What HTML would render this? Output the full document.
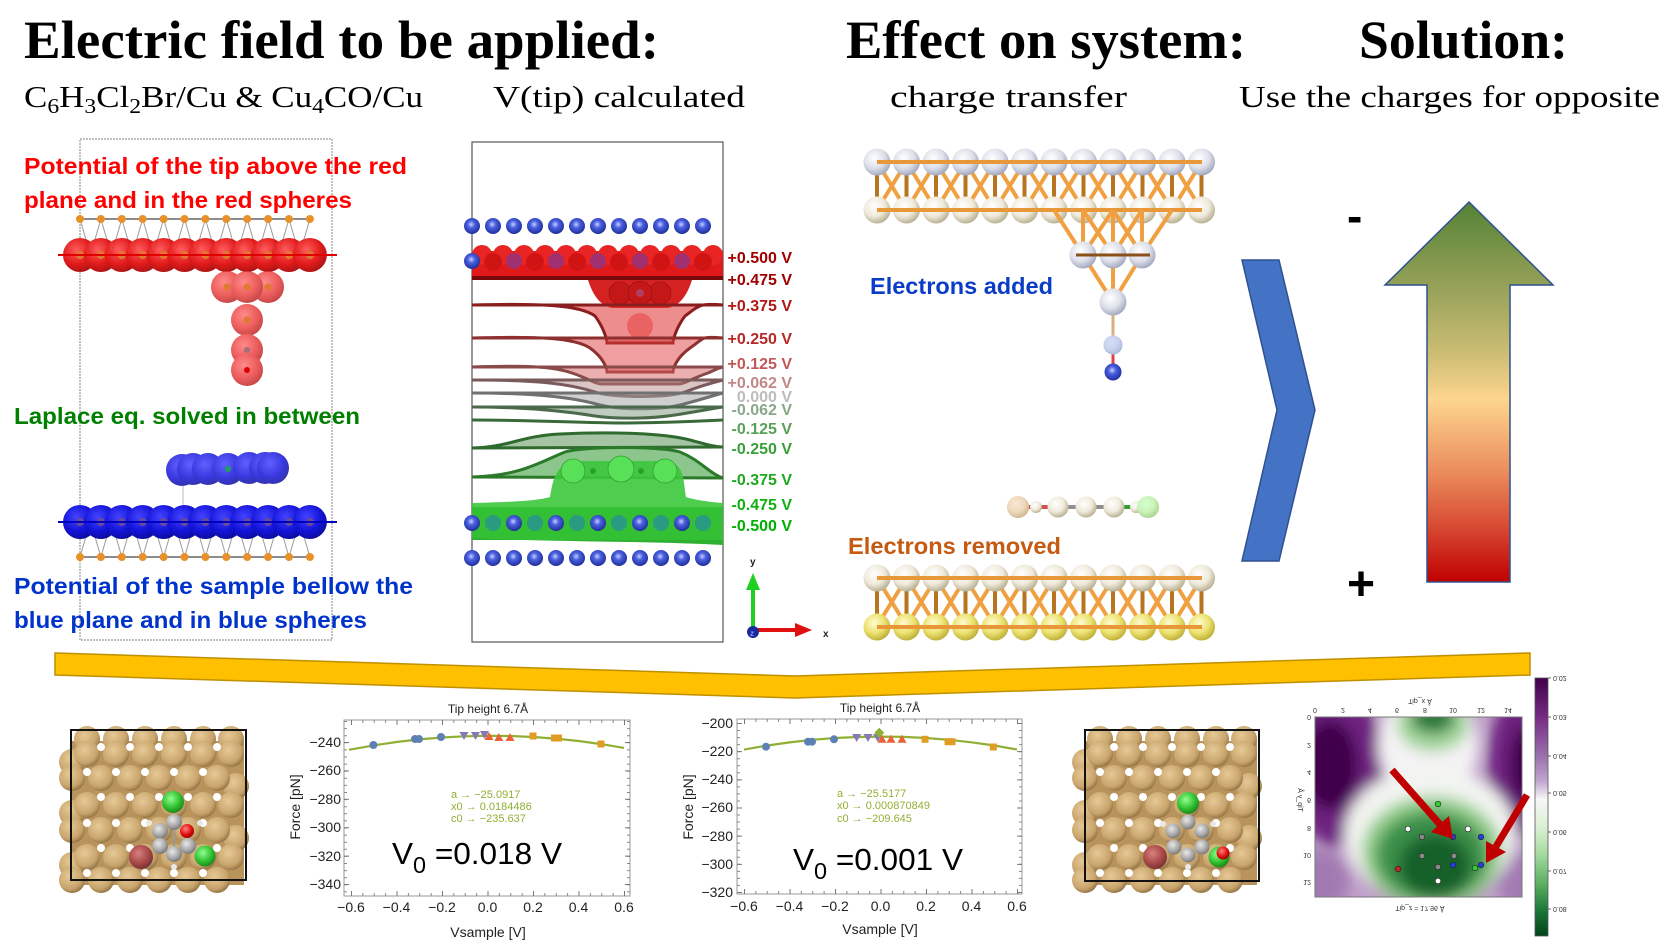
<!DOCTYPE html>
<html><head><meta charset="utf-8">
<style>
html,body{margin:0;padding:0;background:#fff;}
svg{display:block;}
</style></head>
<body>
<svg width="1665" height="946" viewBox="0 0 1665 946" xmlns="http://www.w3.org/2000/svg" xmlns:xlink="http://www.w3.org/1999/xlink">
<defs>
  <radialGradient id="gRed" cx="0.4" cy="0.35" r="0.7"><stop offset="0" stop-color="#ff5050"/><stop offset="0.6" stop-color="#e00808"/><stop offset="1" stop-color="#a00000"/></radialGradient>
  <radialGradient id="gRedT" cx="0.4" cy="0.35" r="0.7"><stop offset="0" stop-color="#ff6a6a"/><stop offset="0.6" stop-color="#e83030"/><stop offset="1" stop-color="#b01010"/></radialGradient>
  <radialGradient id="gBlue" cx="0.4" cy="0.35" r="0.7"><stop offset="0" stop-color="#3a3aff"/><stop offset="0.6" stop-color="#0808d8"/><stop offset="1" stop-color="#000090"/></radialGradient>
  <radialGradient id="gBall" cx="0.45" cy="0.4" r="0.65"><stop offset="0" stop-color="#c8d0ff"/><stop offset="0.35" stop-color="#4a60e0"/><stop offset="1" stop-color="#1a2890"/></radialGradient>
  <radialGradient id="gTan" cx="0.4" cy="0.35" r="0.7"><stop offset="0" stop-color="#e6c996"/><stop offset="0.7" stop-color="#c8a46c"/><stop offset="1" stop-color="#8a6c40"/></radialGradient>
  <radialGradient id="gGray" cx="0.4" cy="0.35" r="0.7"><stop offset="0" stop-color="#ffffff"/><stop offset="0.55" stop-color="#dde0ea"/><stop offset="1" stop-color="#9aa0b8"/></radialGradient>
  <radialGradient id="gBeige" cx="0.4" cy="0.35" r="0.7"><stop offset="0" stop-color="#ffffff"/><stop offset="0.55" stop-color="#efeadb"/><stop offset="1" stop-color="#b0a888"/></radialGradient>
  <radialGradient id="gYel" cx="0.4" cy="0.35" r="0.7"><stop offset="0" stop-color="#fffbd0"/><stop offset="0.55" stop-color="#ece270"/><stop offset="1" stop-color="#b8a830"/></radialGradient>
  <radialGradient id="gC" cx="0.4" cy="0.35" r="0.7"><stop offset="0" stop-color="#e8e8e8"/><stop offset="0.6" stop-color="#a8a8a8"/><stop offset="1" stop-color="#707070"/></radialGradient>
  <radialGradient id="gCl" cx="0.4" cy="0.35" r="0.7"><stop offset="0" stop-color="#90ff90"/><stop offset="0.6" stop-color="#30c030"/><stop offset="1" stop-color="#188018"/></radialGradient>
  <radialGradient id="gBr" cx="0.4" cy="0.35" r="0.7"><stop offset="0" stop-color="#d88080"/><stop offset="0.6" stop-color="#a84848"/><stop offset="1" stop-color="#703030"/></radialGradient>
  <radialGradient id="gO" cx="0.4" cy="0.35" r="0.7"><stop offset="0" stop-color="#ff8080"/><stop offset="0.6" stop-color="#e01010"/><stop offset="1" stop-color="#900000"/></radialGradient>
  <linearGradient id="arrowGrad" x1="0" y1="0" x2="0" y2="1">
    <stop offset="0" stop-color="#548235"/>
    <stop offset="0.22" stop-color="#95a158"/>
    <stop offset="0.4" stop-color="#cdbd74"/>
    <stop offset="0.52" stop-color="#fdd58e"/>
    <stop offset="0.7" stop-color="#ec915f"/>
    <stop offset="0.85" stop-color="#d84c34"/>
    <stop offset="1" stop-color="#c00000"/>
  </linearGradient>
  <linearGradient id="cbar" x1="0" y1="0" x2="0" y2="1">
    <stop offset="0" stop-color="#40004b"/>
    <stop offset="0.15" stop-color="#762a83"/>
    <stop offset="0.3" stop-color="#9970ab"/>
    <stop offset="0.4" stop-color="#c2a5cf"/>
    <stop offset="0.47" stop-color="#f7f7f7"/>
    <stop offset="0.58" stop-color="#d9f0d3"/>
    <stop offset="0.68" stop-color="#a6dba0"/>
    <stop offset="0.8" stop-color="#5aae61"/>
    <stop offset="0.9" stop-color="#1b7837"/>
    <stop offset="1" stop-color="#00441b"/>
  </linearGradient>
  <clipPath id="mapclip"><rect x="1315" y="717" width="207" height="180"/></clipPath>
  <filter id="blur" x="-30%" y="-30%" width="160%" height="160%"><feGaussianBlur stdDeviation="7"/></filter>

  <g id="lrow"><circle cx="0" cy="0" r="17"/><circle cx="20.9" cy="0" r="17"/><circle cx="41.8" cy="0" r="17"/><circle cx="62.7" cy="0" r="17"/><circle cx="83.6" cy="0" r="17"/><circle cx="104.5" cy="0" r="17"/><circle cx="125.4" cy="0" r="17"/><circle cx="146.3" cy="0" r="17"/><circle cx="167.2" cy="0" r="17"/><circle cx="188.1" cy="0" r="17"/><circle cx="209" cy="0" r="17"/><circle cx="229.9" cy="0" r="17"/></g>
  <g id="ldots"><circle cx="0" cy="0" r="4"/><circle cx="20.9" cy="0" r="4"/><circle cx="41.8" cy="0" r="4"/><circle cx="62.7" cy="0" r="4"/><circle cx="83.6" cy="0" r="4"/><circle cx="104.5" cy="0" r="4"/><circle cx="125.4" cy="0" r="4"/><circle cx="146.3" cy="0" r="4"/><circle cx="167.2" cy="0" r="4"/><circle cx="188.1" cy="0" r="4"/><circle cx="209" cy="0" r="4"/><circle cx="229.9" cy="0" r="4"/></g>
  <polyline id="zig" fill="none" stroke="#9a9a9a" stroke-width="1" points="80,219 90.45,255 100.9,219 111.35,255 121.8,219 132.25,255 142.7,219 153.15,255 163.6,219 174.05,255 184.5,219 194.95,255 205.4,219 215.85,255 226.3,219 236.75,255 247.2,219 257.65,255 268.1,219 278.55,255 289,219 299.45,255 309.9,219"/>
  <g id="mrow"><circle cx="0" cy="0" r="8"/><circle cx="21" cy="0" r="8"/><circle cx="42" cy="0" r="8"/><circle cx="63" cy="0" r="8"/><circle cx="84" cy="0" r="8"/><circle cx="105" cy="0" r="8"/><circle cx="126" cy="0" r="8"/><circle cx="147" cy="0" r="8"/><circle cx="168" cy="0" r="8"/><circle cx="189" cy="0" r="8"/><circle cx="210" cy="0" r="8"/><circle cx="231" cy="0" r="8"/></g>
  <g id="rrow"><circle cx="0" cy="0" r="13.5"/><circle cx="29.5" cy="0" r="13.5"/><circle cx="59" cy="0" r="13.5"/><circle cx="88.5" cy="0" r="13.5"/><circle cx="118" cy="0" r="13.5"/><circle cx="147.5" cy="0" r="13.5"/><circle cx="177" cy="0" r="13.5"/><circle cx="206.5" cy="0" r="13.5"/><circle cx="236" cy="0" r="13.5"/><circle cx="265.5" cy="0" r="13.5"/><circle cx="295" cy="0" r="13.5"/><circle cx="324.5" cy="0" r="13.5"/></g>
  <g id="rbonds">
    <path d="M877,162 l29.5,48 m0,-48 l-29.5,48 m29.5,-48 l29.5,48 m0,-48 l-29.5,48 m29.5,-48 l29.5,48 m0,-48 l-29.5,48 m29.5,-48 l29.5,48 m0,-48 l-29.5,48 m29.5,-48 l29.5,48 m0,-48 l-29.5,48 m29.5,-48 l29.5,48 m0,-48 l-29.5,48 m29.5,-48 l29.5,48 m0,-48 l-29.5,48 m29.5,-48 l29.5,48 m0,-48 l-29.5,48 m29.5,-48 l29.5,48 m0,-48 l-29.5,48 m29.5,-48 l29.5,48 m0,-48 l-29.5,48 m29.5,-48 l29.5,48 m0,-48 l-29.5,48" stroke="#f0a040" stroke-width="4" fill="none"/>
    <path d="M877,162 v48 m29.5,-48 v48 m29.5,-48 v48 m29.5,-48 v48 m29.5,-48 v48 m29.5,-48 v48 m29.5,-48 v48 m29.5,-48 v48 m29.5,-48 v48 m29.5,-48 v48 m29.5,-48 v48 m29.5,-48 v48" stroke="#b87420" stroke-width="4" fill="none"/>
  </g>
  <g id="slab">
    <rect x="72" y="741" width="172" height="144" fill="#b8935c"/>
    <g fill="url(#gTan)">
      <circle cx="87" cy="739" r="13"/><circle cx="116" cy="739" r="13"/><circle cx="145" cy="739" r="13"/><circle cx="174" cy="739" r="13"/><circle cx="203" cy="739" r="13"/><circle cx="231" cy="739" r="13"/>
      <circle cx="72" cy="762" r="13"/><circle cx="72" cy="813" r="13"/><circle cx="72" cy="865" r="13"/>
      <circle cx="236" cy="786" r="13"/><circle cx="236" cy="838" r="13"/>
      <circle cx="87" cy="754" r="13"/><circle cx="116" cy="754" r="13"/><circle cx="145" cy="754" r="13"/><circle cx="174" cy="754" r="13"/><circle cx="203" cy="754" r="13"/><circle cx="231" cy="754" r="13"/>
      <circle cx="72" cy="778" r="13"/><circle cx="101" cy="778" r="13"/><circle cx="130" cy="778" r="13"/><circle cx="159" cy="778" r="13"/><circle cx="188" cy="778" r="13"/><circle cx="217" cy="778" r="13"/>
      <circle cx="87" cy="805" r="13"/><circle cx="116" cy="805" r="13"/><circle cx="145" cy="805" r="13"/><circle cx="174" cy="805" r="13"/><circle cx="203" cy="805" r="13"/><circle cx="231" cy="805" r="13"/>
      <circle cx="72" cy="830" r="13"/><circle cx="101" cy="830" r="13"/><circle cx="130" cy="830" r="13"/><circle cx="159" cy="830" r="13"/><circle cx="188" cy="830" r="13"/><circle cx="217" cy="830" r="13"/>
      <circle cx="87" cy="857" r="13"/><circle cx="116" cy="857" r="13"/><circle cx="145" cy="857" r="13"/><circle cx="174" cy="857" r="13"/><circle cx="203" cy="857" r="13"/><circle cx="231" cy="857" r="13"/>
      <circle cx="72" cy="880" r="13"/><circle cx="101" cy="880" r="13"/><circle cx="130" cy="880" r="13"/><circle cx="159" cy="880" r="13"/><circle cx="188" cy="880" r="13"/><circle cx="217" cy="880" r="13"/>
    </g>
    <g fill="#ffffff">
      <circle cx="101" cy="747" r="4"/><circle cx="130" cy="747" r="4"/><circle cx="159" cy="747" r="4"/><circle cx="188" cy="747" r="4"/><circle cx="217" cy="747" r="4"/>
      <circle cx="87" cy="772" r="4"/><circle cx="116" cy="772" r="4"/><circle cx="145" cy="772" r="4"/><circle cx="174" cy="772" r="4"/><circle cx="203" cy="772" r="4"/>
      <circle cx="101" cy="797" r="4"/><circle cx="130" cy="797" r="4"/><circle cx="159" cy="797" r="4"/><circle cx="188" cy="797" r="4"/><circle cx="217" cy="797" r="4"/>
      <circle cx="87" cy="823" r="4"/><circle cx="116" cy="823" r="4"/><circle cx="145" cy="823" r="4"/><circle cx="203" cy="823" r="4"/>
      <circle cx="101" cy="848" r="4"/><circle cx="130" cy="848" r="4"/><circle cx="188" cy="848" r="4"/><circle cx="217" cy="848" r="4"/>
      <circle cx="87" cy="873" r="4"/><circle cx="116" cy="873" r="4"/><circle cx="145" cy="873" r="4"/><circle cx="174" cy="873" r="4"/><circle cx="203" cy="873" r="4"/>
    </g>
  </g>
</defs>

<rect x="0" y="0" width="1665" height="946" fill="#ffffff"/>

<!-- Titles -->
<g font-family="'Liberation Serif', serif" fill="#000">
  <text x="24" y="58" font-size="54" font-weight="bold" textLength="635" lengthAdjust="spacingAndGlyphs">Electric field to be applied:</text>
  <text x="846" y="58" font-size="54" font-weight="bold" textLength="400" lengthAdjust="spacingAndGlyphs">Effect on system:</text>
  <text x="1359" y="58" font-size="54" font-weight="bold" textLength="209" lengthAdjust="spacingAndGlyphs">Solution:</text>
  <text x="24" y="107" font-size="31" textLength="399" lengthAdjust="spacingAndGlyphs">C<tspan font-size="21" dy="6">6</tspan><tspan dy="-6">H</tspan><tspan font-size="21" dy="6">3</tspan><tspan dy="-6">Cl</tspan><tspan font-size="21" dy="6">2</tspan><tspan dy="-6">Br/Cu &amp; Cu</tspan><tspan font-size="21" dy="6">4</tspan><tspan dy="-6">CO/Cu</tspan></text>
  <text x="493" y="107" font-size="31" textLength="252" lengthAdjust="spacingAndGlyphs">V(tip) calculated</text>
  <text x="890" y="107" font-size="31" textLength="237" lengthAdjust="spacingAndGlyphs">charge transfer</text>
  <text x="1239" y="107" font-size="31" textLength="421" lengthAdjust="spacingAndGlyphs">Use the charges for opposite</text>
</g>

<!-- ===== Left panel ===== -->
<rect x="80" y="139" width="252" height="501" fill="none" stroke="#999" stroke-width="1.2" stroke-dasharray="2 1"/>
<line x1="80" y1="219" x2="310" y2="219" stroke="#666" stroke-width="1.5"/>
<use href="#zig"/>
<use href="#ldots" transform="translate(80,219)" fill="#e8902a"/>
<use href="#lrow" transform="translate(80,255)" fill="url(#gRed)" opacity="0.92"/>
<use href="#ldots" transform="translate(80,255)" fill="#e07a30"/>
<line x1="58" y1="255" x2="337" y2="255" stroke="#e00000" stroke-width="2"/>
<g fill="url(#gRedT)" opacity="0.78">
  <circle cx="227" cy="287" r="16"/><circle cx="268" cy="287" r="16"/><circle cx="247" cy="287" r="16"/>
  <circle cx="247" cy="320" r="16"/><circle cx="247" cy="350" r="16"/><circle cx="247" cy="370" r="16"/>
</g>
<g fill="#e07a30"><circle cx="227" cy="287" r="3.5"/><circle cx="247" cy="287" r="3.5"/><circle cx="268" cy="287" r="3.5"/><circle cx="247" cy="320" r="3.5"/></g>
<circle cx="247" cy="350" r="3" fill="#a07080"/><circle cx="247" cy="370" r="3" fill="#e00000"/>
<line x1="183" y1="486" x2="183" y2="512" stroke="#bbb" stroke-width="1"/>
<g fill="url(#gBlue)" opacity="0.8">
  <circle cx="182" cy="470" r="16"/><circle cx="193" cy="469" r="16"/><circle cx="208" cy="469" r="16"/><circle cx="228" cy="469" r="16"/><circle cx="249" cy="468" r="16"/><circle cx="265" cy="468" r="16"/><circle cx="273" cy="468" r="16"/>
</g>
<circle cx="228" cy="469" r="3" fill="#20a060"/>
<use href="#zig" transform="translate(0,776) scale(1,-1)"/>
<use href="#lrow" transform="translate(80,522)" fill="url(#gBlue)" opacity="0.95"/>
<use href="#ldots" transform="translate(80,522)" fill="#6a4a9a"/>
<line x1="58" y1="522" x2="337" y2="522" stroke="#0000c0" stroke-width="2"/>
<line x1="80" y1="557" x2="310" y2="557" stroke="#666" stroke-width="1.5"/>
<use href="#ldots" transform="translate(80,557)" fill="#e8902a"/>

<g font-family="'Liberation Sans', sans-serif" font-weight="bold" font-size="23">
  <text x="24" y="174" fill="#ff0000" textLength="383" lengthAdjust="spacingAndGlyphs">Potential of the tip above the red</text>
  <text x="24" y="208" fill="#ff0000" textLength="328" lengthAdjust="spacingAndGlyphs">plane and in the red spheres</text>
  <text x="14" y="424" fill="#008000" textLength="346" lengthAdjust="spacingAndGlyphs">Laplace eq. solved in between</text>
  <text x="14" y="594" fill="#0033cc" textLength="399" lengthAdjust="spacingAndGlyphs">Potential of the sample bellow the</text>
  <text x="14" y="628" fill="#0033cc" textLength="353" lengthAdjust="spacingAndGlyphs">blue plane and in blue spheres</text>
</g>

<!-- ===== Middle panel: V(tip) ===== -->
<rect x="472" y="142" width="251" height="500" fill="none" stroke="#555" stroke-width="1.2"/>
<use href="#mrow" transform="translate(472,226)" fill="url(#gBall)"/>
<rect x="472" y="251" width="251" height="29" fill="#e01a1a"/>
<g fill="#e82424"><circle cx="482" cy="255" r="10"/><circle cx="503" cy="255" r="10"/><circle cx="524" cy="255" r="10"/><circle cx="545" cy="255" r="10"/><circle cx="566" cy="255" r="10"/><circle cx="587" cy="255" r="10"/><circle cx="608" cy="255" r="10"/><circle cx="629" cy="255" r="10"/><circle cx="650" cy="255" r="10"/><circle cx="671" cy="255" r="10"/><circle cx="692" cy="255" r="10"/><circle cx="713" cy="255" r="10"/></g>
<g fill="#d01414"><circle cx="493" cy="262" r="9"/><circle cx="535" cy="262" r="9"/><circle cx="577" cy="262" r="9"/><circle cx="619" cy="262" r="9"/><circle cx="661" cy="262" r="9"/><circle cx="703" cy="262" r="9"/></g>
<g fill="#a03070"><circle cx="514" cy="261" r="8"/><circle cx="556" cy="261" r="8"/><circle cx="598" cy="261" r="8"/><circle cx="640" cy="261" r="8"/><circle cx="682" cy="261" r="8"/></g>
<circle cx="472" cy="261" r="8" fill="url(#gBall)"/>
<rect x="472" y="276" width="251" height="4" fill="#7a0a0a"/>
<path d="M588,280 C592,292 598,305 612,308 L668,308 C682,305 688,292 692,280 Z" fill="#d42222"/>
<g fill="#c41818" stroke="#a01010" stroke-width="0.8"><circle cx="620" cy="293" r="11"/><circle cx="660" cy="293" r="11"/><circle cx="640" cy="293" r="12"/></g>
<circle cx="640" cy="293" r="4" fill="#b04060"/>
<path d="M472,305 C540,303 580,305 595,316 C604,328 607,340 607,343 L673,343 C673,340 676,328 685,316 C700,305 700,303 723,305 Z" fill="#e03030" fill-opacity="0.55" stroke="#8a1e1e" stroke-width="3"/>
<circle cx="640" cy="326" r="13" fill="#e84848" opacity="0.6"/>
<path d="M472,338 C540,336 575,338 590,348 C604,358 607,369 607,372 L673,372 C673,369 676,358 690,348 C705,338 700,336 723,338 Z" fill="#e04040" fill-opacity="0.5" stroke="#8e3030" stroke-width="3"/>
<path d="M472,367 C530,365 555,367 572,373 C590,379 595,384 602,384 L678,384 C685,384 690,379 708,373 C715,370 718,368 723,367 Z" fill="#d86060" fill-opacity="0.5" stroke="#8a4a4a" stroke-width="3"/>
<path d="M472,380 C540,380 570,384 595,392 C612,398 668,398 685,392 C700,386 715,382 723,380 Z" fill="#b08080" fill-opacity="0.45" stroke="#7a5a5a" stroke-width="3"/>
<path d="M472,393 C540,393 575,398 600,405 C620,410 660,410 680,405 C700,400 715,395 723,393 Z" fill="#a0a0a0" fill-opacity="0.5" stroke="#707070" stroke-width="3"/>
<path d="M472,407 C530,407 570,412 595,416 C615,419 650,419 675,415 C700,411 715,408 723,407 Z" fill="#809880" fill-opacity="0.5" stroke="#4a6a4a" stroke-width="3"/>
<path d="M472,420 C540,420 580,423 620,423 C660,423 700,421 723,420" fill="none" stroke="#3a6a3a" stroke-width="3"/>
<path d="M472,448 C510,447 520,436 560,434 C600,432 660,432 690,440 C705,444 715,447 723,447 Z" fill="#4a8a4a" fill-opacity="0.5" stroke="#2f6a2f" stroke-width="3"/>
<path d="M472,477 C520,476 540,462 565,452 C585,446 660,446 680,452 C700,460 710,474 723,478 Z" fill="#40a040" fill-opacity="0.6" stroke="#2a7a2a" stroke-width="3"/>
<path d="M472,503 C520,502 540,500 550,497 C553,480 555,465 575,461 L668,461 C685,465 683,480 686,497 C695,500 710,502 723,503 L723,508 L472,508 Z" fill="#3cc83c" fill-opacity="0.9"/>
<g fill="#58e058" stroke="#30a030" stroke-width="0.8"><circle cx="573" cy="471" r="12"/><circle cx="621" cy="469" r="13"/><circle cx="665" cy="471" r="12"/></g>
<g fill="#2aa02a"><circle cx="593" cy="471" r="3"/><circle cx="641" cy="471" r="3"/></g>
<rect x="472" y="507" width="251" height="33" fill="#34c034"/>
<path d="M472,538 C550,542 650,541 723,545 L723,540 L472,540 Z" fill="#30b030"/>
<g fill="#2a9a80"><circle cx="493" cy="523" r="8"/><circle cx="535" cy="523" r="8"/><circle cx="577" cy="523" r="8"/><circle cx="619" cy="523" r="8"/><circle cx="661" cy="523" r="8"/><circle cx="703" cy="523" r="8"/></g>
<g fill="url(#gBall)"><circle cx="472" cy="523" r="8"/><circle cx="514" cy="523" r="8"/><circle cx="556" cy="523" r="8"/><circle cx="598" cy="523" r="8"/><circle cx="640" cy="523" r="8"/><circle cx="682" cy="523" r="8"/></g>
<use href="#mrow" transform="translate(472,558)" fill="url(#gBall)"/>
<g font-family="'Liberation Sans', sans-serif" font-weight="bold" font-size="16" text-anchor="end" stroke="#ffffff" stroke-width="0.4" paint-order="stroke">
  <text x="792" y="263" fill="#a00000">+0.500 V</text>
  <text x="792" y="285" fill="#a00000">+0.475 V</text>
  <text x="792" y="311" fill="#b01818">+0.375 V</text>
  <text x="792" y="344" fill="#b82828">+0.250 V</text>
  <text x="792" y="369" fill="#c05858">+0.125 V</text>
  <text x="792" y="388" fill="#c08888">+0.062 V</text>
  <text x="792" y="402" fill="#bcbcbc">0.000 V</text>
  <text x="792" y="415" fill="#88a888">-0.062 V</text>
  <text x="792" y="434" fill="#58a058">-0.125 V</text>
  <text x="792" y="454" fill="#38a038">-0.250 V</text>
  <text x="792" y="485" fill="#20a820">-0.375 V</text>
  <text x="792" y="510" fill="#10b010">-0.475 V</text>
  <text x="792" y="531" fill="#00b000">-0.500 V</text>
</g>
<line x1="753" y1="630" x2="753" y2="588" stroke="#20d020" stroke-width="4"/>
<polygon points="753,573 746,590 760,590" fill="#20d020"/>
<line x1="753" y1="630" x2="796" y2="630" stroke="#e01010" stroke-width="4"/>
<polygon points="812,630 795,623 795,637" fill="#e01010"/>
<circle cx="753" cy="632" r="6" fill="#1a2a9a"/>
<g font-family="'Liberation Sans', sans-serif" font-weight="bold" font-size="10" fill="#222">
  <text x="750" y="565">y</text>
  <text x="823" y="637">x</text>
  <text x="750" y="636" fill="#8898ff" font-size="8">z</text>
</g>

<!-- ===== Right top panel ===== -->
<use href="#rbonds"/>
<use href="#rrow" transform="translate(877,162)" fill="url(#gGray)"/>
<use href="#rrow" transform="translate(877,210)" fill="url(#gBeige)"/>
<line x1="877" y1="162" x2="1202" y2="162" stroke="#e89838" stroke-width="4"/>
<line x1="877" y1="210" x2="1202" y2="210" stroke="#e89838" stroke-width="4"/>
<path d="M1054,210 L1083,255 M1083,210 L1083,255 M1083,210 L1113,255 M1113,210 L1083,255 M1113,210 L1113,255 M1113,210 L1142,255 M1142,210 L1113,255 M1142,210 L1142,255 M1172,210 L1142,255 M1083,255 L1113,302 M1142,255 L1113,302 M1113,255 L1113,302" stroke="#f0a040" stroke-width="4" fill="none"/>
<g fill="url(#gGray)"><circle cx="1083" cy="255" r="13.5"/><circle cx="1142" cy="255" r="13.5"/><circle cx="1113" cy="255" r="13.5"/><circle cx="1113" cy="302" r="13.5"/></g>
<line x1="1076" y1="255" x2="1150" y2="255" stroke="#8a5018" stroke-width="3"/>
<line x1="1113" y1="315" x2="1113" y2="336" stroke="#d8b080" stroke-width="3"/>
<line x1="1113" y1="352" x2="1113" y2="366" stroke="#e04040" stroke-width="3"/>
<circle cx="1113" cy="345" r="9.5" fill="url(#gGray)"/>
<circle cx="1113" cy="345" r="9.5" fill="#b8c8f0" opacity="0.6"/>
<circle cx="1113" cy="372" r="8.5" fill="url(#gBall)"/>
<line x1="1026" y1="507" x2="1050" y2="507" stroke="#d05050" stroke-width="4"/>
<line x1="1058" y1="507" x2="1120" y2="507" stroke="#909090" stroke-width="4"/>
<line x1="1120" y1="507" x2="1142" y2="507" stroke="#30a030" stroke-width="4"/>
<circle cx="1018" cy="507" r="11" fill="url(#gBeige)"/><circle cx="1018" cy="507" r="11" fill="#f0c090" opacity="0.4"/>
<circle cx="1036" cy="507" r="6" fill="url(#gBeige)"/>
<circle cx="1058" cy="507" r="10.5" fill="url(#gBeige)"/>
<circle cx="1086" cy="507" r="10.5" fill="url(#gBeige)"/>
<circle cx="1114" cy="507" r="10.5" fill="url(#gBeige)"/>
<circle cx="1136" cy="507" r="6" fill="url(#gBeige)"/>
<circle cx="1148" cy="507" r="11" fill="url(#gBeige)"/><circle cx="1148" cy="507" r="11" fill="#a0ff90" opacity="0.45"/>
<use href="#rbonds" transform="translate(0,416)"/>
<use href="#rrow" transform="translate(877,578)" fill="url(#gBeige)"/>
<use href="#rrow" transform="translate(877,627)" fill="url(#gYel)"/>
<line x1="877" y1="578" x2="1202" y2="578" stroke="#e89838" stroke-width="4"/>
<line x1="877" y1="627" x2="1202" y2="627" stroke="#e89838" stroke-width="4"/>
<g font-family="'Liberation Sans', sans-serif" font-weight="bold" font-size="23">
  <text x="870" y="294" fill="#0a3cc8" textLength="183" lengthAdjust="spacingAndGlyphs">Electrons added</text>
  <text x="848" y="554" fill="#c55a11" textLength="213" lengthAdjust="spacingAndGlyphs">Electrons removed</text>
</g>

<polygon points="1242,260 1279,260 1315,410 1279,561 1242,561 1277,410" fill="#4472c4" stroke="#2f528f" stroke-width="1.5"/>
<polygon points="1469,202 1553,285 1510,285 1510,582 1427,582 1427,285 1385,285" fill="url(#arrowGrad)" stroke="#2f528f" stroke-width="1.5"/>
<g font-family="'Liberation Sans', sans-serif" font-weight="bold" fill="#000">
  <text x="1347" y="232" font-size="46">-</text>
  <text x="1347" y="600" font-size="48">+</text>
</g>

<polygon points="55,653 795,676 1530,653 1530,675 795,698 55,675" fill="#ffc000" stroke="#bf9000" stroke-width="1.5"/>

<!-- ===== bottom slab images ===== -->
<use href="#slab"/>
<g>
  <line x1="174" y1="822" x2="174" y2="854" stroke="#999" stroke-width="2"/>
  <circle cx="173" cy="802" r="11" fill="url(#gCl)"/>
  <g fill="#e8e8e8"><circle cx="149" cy="823" r="3"/><circle cx="200" cy="823" r="3"/><circle cx="174" cy="867" r="3"/></g>
  <circle cx="141" cy="857" r="12" fill="url(#gBr)"/>
  <circle cx="205" cy="856" r="10.5" fill="url(#gCl)"/>
  <g fill="url(#gC)"><circle cx="174" cy="822" r="8"/><circle cx="160" cy="831" r="8"/><circle cx="160" cy="846" r="8"/><circle cx="174" cy="854" r="8"/><circle cx="188" cy="846" r="8"/></g>
  <circle cx="187" cy="831" r="7" fill="url(#gO)"/>
</g>
<rect x="71" y="730" width="175" height="150" fill="none" stroke="#111" stroke-width="2"/>

<use href="#slab" transform="translate(1013,0)"/>
<g>
  <circle cx="1188" cy="803" r="11" fill="url(#gCl)"/>
  <g fill="#e8e8e8"><circle cx="1163" cy="824" r="3"/><circle cx="1213" cy="824" r="3"/><circle cx="1188" cy="867" r="3"/></g>
  <circle cx="1155" cy="857" r="12" fill="url(#gBr)"/>
  <g fill="url(#gC)"><circle cx="1188" cy="822" r="7.5"/><circle cx="1173" cy="831" r="7.5"/><circle cx="1202" cy="831" r="7.5"/><circle cx="1174" cy="847" r="7.5"/><circle cx="1202" cy="847" r="7.5"/><circle cx="1188" cy="855" r="7.5"/></g>
  <circle cx="1219" cy="857" r="10.5" fill="url(#gCl)"/>
  <circle cx="1223" cy="853" r="6.5" fill="url(#gO)"/>
</g>
<rect x="1085" y="730" width="174" height="151" fill="none" stroke="#111" stroke-width="2"/>

<!-- ===== Chart 1 ===== -->
<g font-family="'Liberation Sans', sans-serif" fill="#222">
  <text x="488" y="713" font-size="12" text-anchor="middle">Tip height 6.7Å</text>
  <rect x="344" y="720" width="286" height="176" fill="#fff" stroke="#999" stroke-width="1"/>
  <line x1="351" y1="894.5" x2="625" y2="894.5" stroke="#888" stroke-width="3" stroke-dasharray="1 10.375"/>
  <line x1="351" y1="893.5" x2="625" y2="893.5" stroke="#777" stroke-width="5" stroke-dasharray="1 44.5"/>
  <line x1="351" y1="721.5" x2="625" y2="721.5" stroke="#888" stroke-width="3" stroke-dasharray="1 10.375"/>
  <line x1="351" y1="722.5" x2="625" y2="722.5" stroke="#777" stroke-width="5" stroke-dasharray="1 44.5"/>
  <line x1="345.5" y1="721" x2="345.5" y2="896" stroke="#888" stroke-width="3" stroke-dasharray="1 6.1"/>
  <line x1="346.5" y1="742" x2="346.5" y2="896" stroke="#777" stroke-width="5" stroke-dasharray="1 27.4"/>
  <line x1="628.5" y1="721" x2="628.5" y2="896" stroke="#888" stroke-width="3" stroke-dasharray="1 6.1"/>
  <line x1="627.5" y1="742" x2="627.5" y2="896" stroke="#777" stroke-width="5" stroke-dasharray="1 27.4"/>
  <g font-size="14" text-anchor="end">
    <text x="341" y="747">−240</text><text x="341" y="775">−260</text><text x="341" y="804">−280</text><text x="341" y="832">−300</text><text x="341" y="861">−320</text><text x="341" y="889">−340</text>
  </g>
  <g font-size="14" text-anchor="middle">
    <text x="351" y="912">−0.6</text><text x="396.5" y="912">−0.4</text><text x="442" y="912">−0.2</text><text x="487.5" y="912">0.0</text><text x="533" y="912">0.2</text><text x="578.5" y="912">0.4</text><text x="624" y="912">0.6</text>
  </g>
  <text x="488" y="937" font-size="14" text-anchor="middle">Vsample [V]</text>
  <text transform="translate(300,807) rotate(-90)" font-size="14" text-anchor="middle">Force [pN]</text>
  <polyline fill="none" stroke="#8fb032" stroke-width="2.2" points="349,749.7 351,749.4 373.75,745.4 396.5,742 419.25,739.4 442,737.5 464.75,736.3 487.5,735.8 510.25,736 533,737 555.75,738.6 578.5,741 601.25,744.1 624,747.9"/>
  <g fill="#5e81b5"><circle cx="373.4" cy="745" r="4"/><circle cx="415" cy="739" r="4"/><circle cx="419" cy="739" r="4"/><circle cx="441" cy="737" r="4"/></g>
  <g fill="#8778b3"><polygon points="459.5,732 468.5,732 464,740"/><polygon points="471,732 480,732 475.5,740"/><polygon points="480,731 489,731 484.5,739"/></g>
  <g fill="#eb6235"><polygon points="489,732 493.5,740 484.5,740"/><polygon points="498.8,733 503.3,741 494.3,741"/><polygon points="510,733 514.5,741 505.5,741"/></g>
  <g fill="#e19c24"><rect x="529.5" y="732.5" width="7" height="7"/><rect x="551" y="734.5" width="7" height="7"/><rect x="555" y="734.5" width="7" height="7"/><rect x="597.5" y="740.5" width="7" height="7"/></g>
  <g font-size="11" fill="#8fb032">
    <text x="451" y="798">a → −25.0917</text>
    <text x="451" y="810">x0 → 0.0184486</text>
    <text x="451" y="822">c0 → −235.637</text>
  </g>
  <text x="392" y="864" font-size="31" fill="#000" textLength="170" lengthAdjust="spacingAndGlyphs">V<tspan font-size="23" dy="9">0</tspan><tspan dy="-9"> =0.018 V</tspan></text>
</g>

<!-- ===== Chart 2 ===== -->
<g font-family="'Liberation Sans', sans-serif" fill="#222">
  <text x="880" y="712" font-size="12" text-anchor="middle">Tip height 6.7Å</text>
  <rect x="737" y="719" width="285" height="175" fill="#fff" stroke="#999" stroke-width="1"/>
  <line x1="744" y1="892.5" x2="1018" y2="892.5" stroke="#888" stroke-width="3" stroke-dasharray="1 10.375"/>
  <line x1="744" y1="891.5" x2="1018" y2="891.5" stroke="#777" stroke-width="5" stroke-dasharray="1 44.5"/>
  <line x1="744" y1="720.5" x2="1018" y2="720.5" stroke="#888" stroke-width="3" stroke-dasharray="1 10.375"/>
  <line x1="744" y1="721.5" x2="1018" y2="721.5" stroke="#777" stroke-width="5" stroke-dasharray="1 44.5"/>
  <line x1="738.5" y1="723" x2="738.5" y2="894" stroke="#888" stroke-width="3" stroke-dasharray="1 6.04"/>
  <line x1="739.5" y1="723" x2="739.5" y2="894" stroke="#777" stroke-width="5" stroke-dasharray="1 27.17"/>
  <line x1="1020.5" y1="723" x2="1020.5" y2="894" stroke="#888" stroke-width="3" stroke-dasharray="1 6.04"/>
  <line x1="1019.5" y1="723" x2="1019.5" y2="894" stroke="#777" stroke-width="5" stroke-dasharray="1 27.17"/>
  <g font-size="14" text-anchor="end">
    <text x="733" y="728">−200</text><text x="733" y="756">−220</text><text x="733" y="784">−240</text><text x="733" y="812">−260</text><text x="733" y="841">−280</text><text x="733" y="869">−300</text><text x="733" y="897">−320</text>
  </g>
  <g font-size="14" text-anchor="middle">
    <text x="744" y="911">−0.6</text><text x="789.5" y="911">−0.4</text><text x="835" y="911">−0.2</text><text x="880.5" y="911">0.0</text><text x="926" y="911">0.2</text><text x="971.5" y="911">0.4</text><text x="1017" y="911">0.6</text>
  </g>
  <text x="880" y="934" font-size="14" text-anchor="middle">Vsample [V]</text>
  <text transform="translate(693,807) rotate(-90)" font-size="14" text-anchor="middle">Force [pN]</text>
  <polyline fill="none" stroke="#8fb032" stroke-width="2.2" points="744,749.6 766.75,745.6 789.5,742.4 812.25,739.8 835,738 857.75,737 880.5,736.6 903.25,736.9 926,738 948.75,739.8 971.5,742.3 994.25,745.5 1017,749.5"/>
  <g fill="#5e81b5"><circle cx="766" cy="746.7" r="4"/><circle cx="808" cy="741.7" r="4"/><circle cx="812" cy="741.7" r="4"/><circle cx="834" cy="739.3" r="4"/></g>
  <g fill="#8778b3"><polygon points="852.2,734 861.2,734 856.7,742"/><polygon points="863.5,734 872.5,734 868,742"/><polygon points="873.2,734 882.2,734 877.7,742"/></g>
  <polygon points="879.3,727.7 884.3,732.7 879.3,737.7 874.3,732.7" fill="#8fb032"/>
  <g fill="#eb6235"><polygon points="882,734.7 886.5,742.7 877.5,742.7"/><polygon points="891,734.7 895.5,742.7 886.5,742.7"/><polygon points="902,734.7 906.5,742.7 897.5,742.7"/></g>
  <g fill="#e19c24"><rect x="921.5" y="735.8" width="7" height="7"/><rect x="944.5" y="738.2" width="7" height="7"/><rect x="948.5" y="738.2" width="7" height="7"/><rect x="989.8" y="743.5" width="7" height="7"/></g>
  <g font-size="11" fill="#8fb032">
    <text x="837" y="797">a → −25.5177</text>
    <text x="837" y="809">x0 → 0.000870849</text>
    <text x="837" y="822">c0 → −209.645</text>
  </g>
  <text x="793" y="870" font-size="31" fill="#000" textLength="170" lengthAdjust="spacingAndGlyphs">V<tspan font-size="23" dy="9">0</tspan><tspan dy="-9"> =0.001 V</tspan></text>
</g>

<!-- ===== 2D map ===== -->
<g clip-path="url(#mapclip)">
  <rect x="1315" y="717" width="207" height="180" fill="#c0a0ca"/>
  <g filter="url(#blur)">
    <ellipse cx="1320" cy="880" rx="30" ry="30" fill="#a27ab2"/>
    <ellipse cx="1522" cy="880" rx="25" ry="30" fill="#a27ab2"/>
    <ellipse cx="1337" cy="768" rx="48" ry="78" fill="#6e2080"/>
    <ellipse cx="1330" cy="765" rx="28" ry="45" fill="#40004b"/>
    <ellipse cx="1520" cy="765" rx="32" ry="72" fill="#6e2080"/>
    <ellipse cx="1524" cy="765" rx="14" ry="38" fill="#40004b"/>
    <ellipse cx="1428" cy="745" rx="50" ry="58" fill="#f5f3f5"/>
    <ellipse cx="1430" cy="835" rx="86" ry="68" fill="#f2f4f0"/>
    <ellipse cx="1433" cy="724" rx="36" ry="28" fill="#a0d498"/>
    <ellipse cx="1433" cy="718" rx="22" ry="16" fill="#2a7a3c"/>
    <ellipse cx="1432" cy="852" rx="70" ry="56" fill="#90cc88"/>
    <ellipse cx="1432" cy="856" rx="56" ry="45" fill="#3a9048"/>
    <ellipse cx="1435" cy="866" rx="36" ry="32" fill="#14602a"/>
  </g>
</g>
<rect x="1315" y="717" width="207" height="180" fill="none" stroke="#777" stroke-width="1"/>
<g stroke="#222" stroke-width="0.6">
  <circle cx="1438" cy="804" r="2.8" fill="#30d030"/>
  <circle cx="1408" cy="829" r="2.8" fill="#fff"/>
  <circle cx="1422" cy="837" r="2.8" fill="#888"/>
  <circle cx="1453" cy="837" r="2.8" fill="#2040e0"/>
  <circle cx="1468" cy="829" r="2.8" fill="#fff"/>
  <circle cx="1481" cy="837" r="2.8" fill="#2040e0"/>
  <circle cx="1422" cy="856" r="2.8" fill="#888"/>
  <circle cx="1454" cy="856" r="2.8" fill="#888"/>
  <circle cx="1453" cy="865" r="2.8" fill="#2040e0"/>
  <circle cx="1481" cy="865" r="2.8" fill="#2040e0"/>
  <circle cx="1475" cy="868" r="2.8" fill="#30d030"/>
  <circle cx="1398" cy="869" r="2.8" fill="#d02020"/>
  <circle cx="1438" cy="867" r="2.8" fill="#888"/>
  <circle cx="1438" cy="881" r="2.8" fill="#fff"/>
</g>
<line x1="1392" y1="770" x2="1440" y2="824.5" stroke="#c00000" stroke-width="7"/>
<polygon points="1453,839 1431,832 1449,816" fill="#c00000"/>
<line x1="1527" y1="795" x2="1496" y2="846.5" stroke="#c00000" stroke-width="7"/>
<polygon points="1486,863 1486,841 1506,852" fill="#c00000"/>
<rect x="1535" y="678" width="13" height="258" fill="url(#cbar)" stroke="#555" stroke-width="0.8"/>
<g stroke="#444" stroke-width="0.8"><line x1="1548" y1="678" x2="1551" y2="678"/><line x1="1548" y1="717" x2="1551" y2="717"/><line x1="1548" y1="756" x2="1551" y2="756"/><line x1="1548" y1="793" x2="1551" y2="793"/><line x1="1548" y1="832" x2="1551" y2="832"/><line x1="1548" y1="871" x2="1551" y2="871"/><line x1="1548" y1="909" x2="1551" y2="909"/></g>
<g font-family="'Liberation Sans', sans-serif" font-size="7" fill="#333">
  <text transform="translate(1553,676) scale(1,-1)">0.02</text>
  <text transform="translate(1553,715) scale(1,-1)">0.03</text>
  <text transform="translate(1553,754) scale(1,-1)">0.04</text>
  <text transform="translate(1553,791) scale(1,-1)">0.05</text>
  <text transform="translate(1553,830) scale(1,-1)">0.06</text>
  <text transform="translate(1553,869) scale(1,-1)">0.07</text>
  <text transform="translate(1553,907) scale(1,-1)">0.08</text>
  <g text-anchor="middle">
    <text transform="translate(1315,708) scale(1,-1)">0</text>
    <text transform="translate(1343,708) scale(1,-1)">2</text>
    <text transform="translate(1370,708) scale(1,-1)">4</text>
    <text transform="translate(1397,708) scale(1,-1)">6</text>
    <text transform="translate(1425,708) scale(1,-1)">8</text>
    <text transform="translate(1453,708) scale(1,-1)">10</text>
    <text transform="translate(1481,708) scale(1,-1)">12</text>
    <text transform="translate(1508,708) scale(1,-1)">14</text>
    <text transform="translate(1420,699) scale(1,-1)">Tip_x Å</text>
    <text transform="translate(1420,906) scale(1,-1)">Tip_z = 17.96 Å</text>
  </g>
  <g text-anchor="end">
    <text transform="translate(1311,715) scale(1,-1)">0</text>
    <text transform="translate(1311,743) scale(1,-1)">2</text>
    <text transform="translate(1311,770) scale(1,-1)">4</text>
    <text transform="translate(1311,798) scale(1,-1)">6</text>
    <text transform="translate(1311,826) scale(1,-1)">8</text>
    <text transform="translate(1311,853) scale(1,-1)">10</text>
    <text transform="translate(1311,880) scale(1,-1)">12</text>
  </g>
  <text transform="translate(1298,800) rotate(-90) scale(1,-1)" text-anchor="middle">Tip_y Å</text>
</g>
</svg>
</body></html>
